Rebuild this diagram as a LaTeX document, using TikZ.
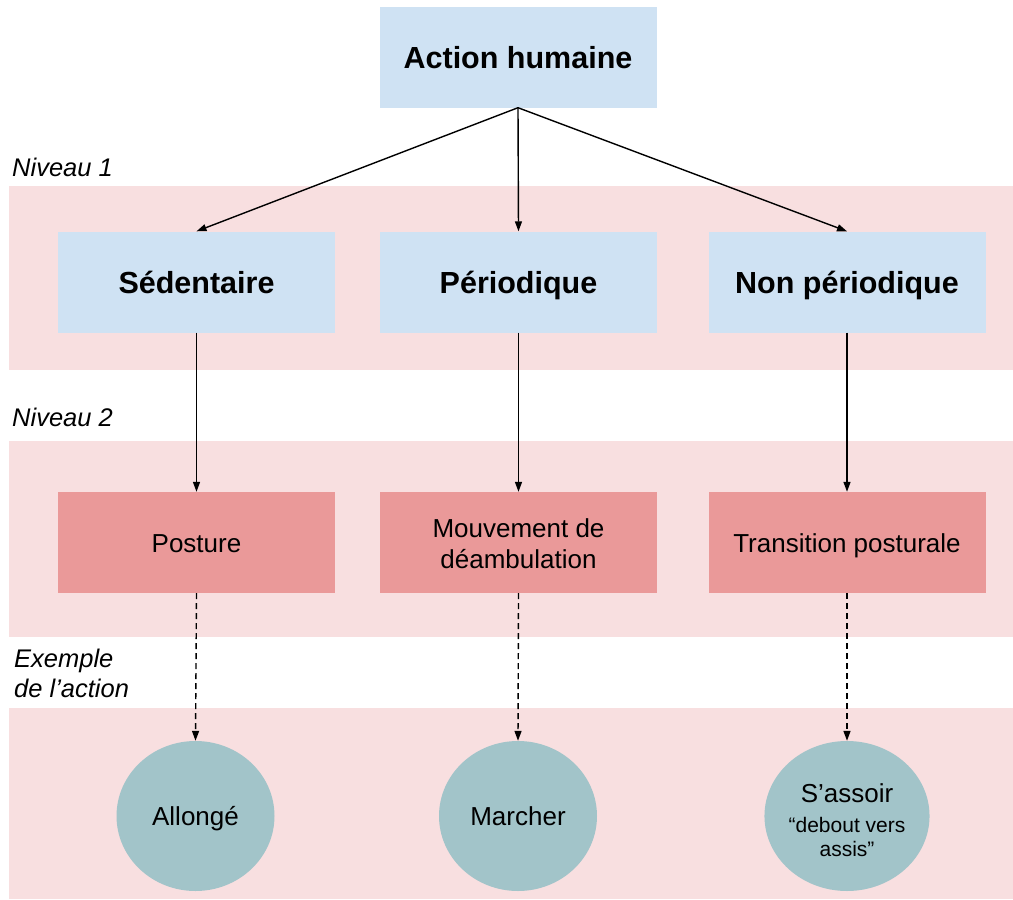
\documentclass[tikz,border=0pt]{standalone}
\usepackage{fontspec}
\setmainfont{Liberation Sans}
\usetikzlibrary{arrows.meta,shapes.geometric}
\definecolor{boxblue}{HTML}{CFE2F3}
\definecolor{boxred}{HTML}{EA9999}
\definecolor{bandpink}{HTML}{F8DFE0}
\definecolor{circteal}{HTML}{A2C4C9}
\tikzset{
  band/.style={fill=bandpink, draw=none},
  bluebox/.style={rectangle, fill=boxblue, draw=none, minimum width=277pt, minimum height=101pt, inner sep=0pt, text height=22pt, text depth=-2pt, font=\fontsize{30.5}{36}\selectfont\bfseries},
  redbox/.style={rectangle, fill=boxred, draw=none, minimum width=277pt, minimum height=101pt, inner sep=0pt, align=center, text height=19pt, text depth=-3pt, font=\fontsize{26}{31}\selectfont},
  examp/.style={ellipse, fill=circteal, draw=none, minimum width=158pt, minimum height=150pt, inner sep=0pt, align=center, text height=19pt, text depth=0pt, font=\fontsize{26}{31}\selectfont},
  lvl/.style={anchor=west, inner sep=0pt, font=\fontsize{25.5}{30}\selectfont\itshape},
  arr/.style={line width=1.4pt, -{Triangle[length=10pt,width=7pt]}},
  darr/.style={arr, dash pattern=on 6pt off 4pt}
}
\begin{document}
\begin{tikzpicture}[x=1pt,y=-1pt]
\useasboundingbox (0,0) rectangle (1013,900);
% bands
\fill[band] (9,186) rectangle (1013,370);
\fill[band] (9,441) rectangle (1013,637);
\fill[band] (9,708) rectangle (1013,899);
% level labels
\node[lvl] (n1) at (12,167) {Niveau 1};
\node[lvl] (n2) at (12,417) {Niveau 2};
\node[lvl, align=left] (n3) at (14,673) {Exemple\\de l’action};
% nodes
\node[bluebox] (top) at (518,57) {Action humaine};
\node[bluebox] (s1) at (196.5,282) {Sédentaire};
\node[bluebox] (p1) at (518.5,282) {Périodique};
\node[bluebox] (np1) at (847,282) {Non périodique};
\node[redbox] (s2) at (196.5,542.5) {Posture};
\node[redbox, text height=51.6pt, text depth=0pt] (p2) at (518.5,542.5) {Mouvement de\\déambulation};
\node[redbox] (np2) at (847,542.5) {Transition posturale};
\node[examp] (s3) at (195.5,816) {Allongé};
\node[examp] (p3) at (518,816) {Marcher};
\node[examp, text height=81.7pt, text depth=-6.3pt] (np3) at (847,816) {S’assoir\\[-0.6pt]{\fontsize{21}{24}\selectfont “debout vers}\\[-6.7pt]{\fontsize{21}{24}\selectfont assis”}};
% connectors
\draw[arr] (top.south) -- (s1.north);
\draw[arr] (top.south) -- (p1.north);
\draw[arr] (top.south) -- (np1.north);
\draw[arr] (s1.south) -- (s2.north);
\draw[arr] (p1.south) -- (p2.north);
\draw[arr] (np1.south) -- (np2.north);
\draw[darr] (s2.south) -- (s3.north);
\draw[darr] (p2.south) -- (p3.north);
\draw[darr] (np2.south) -- (np3.north);
\end{tikzpicture}
\end{document}
